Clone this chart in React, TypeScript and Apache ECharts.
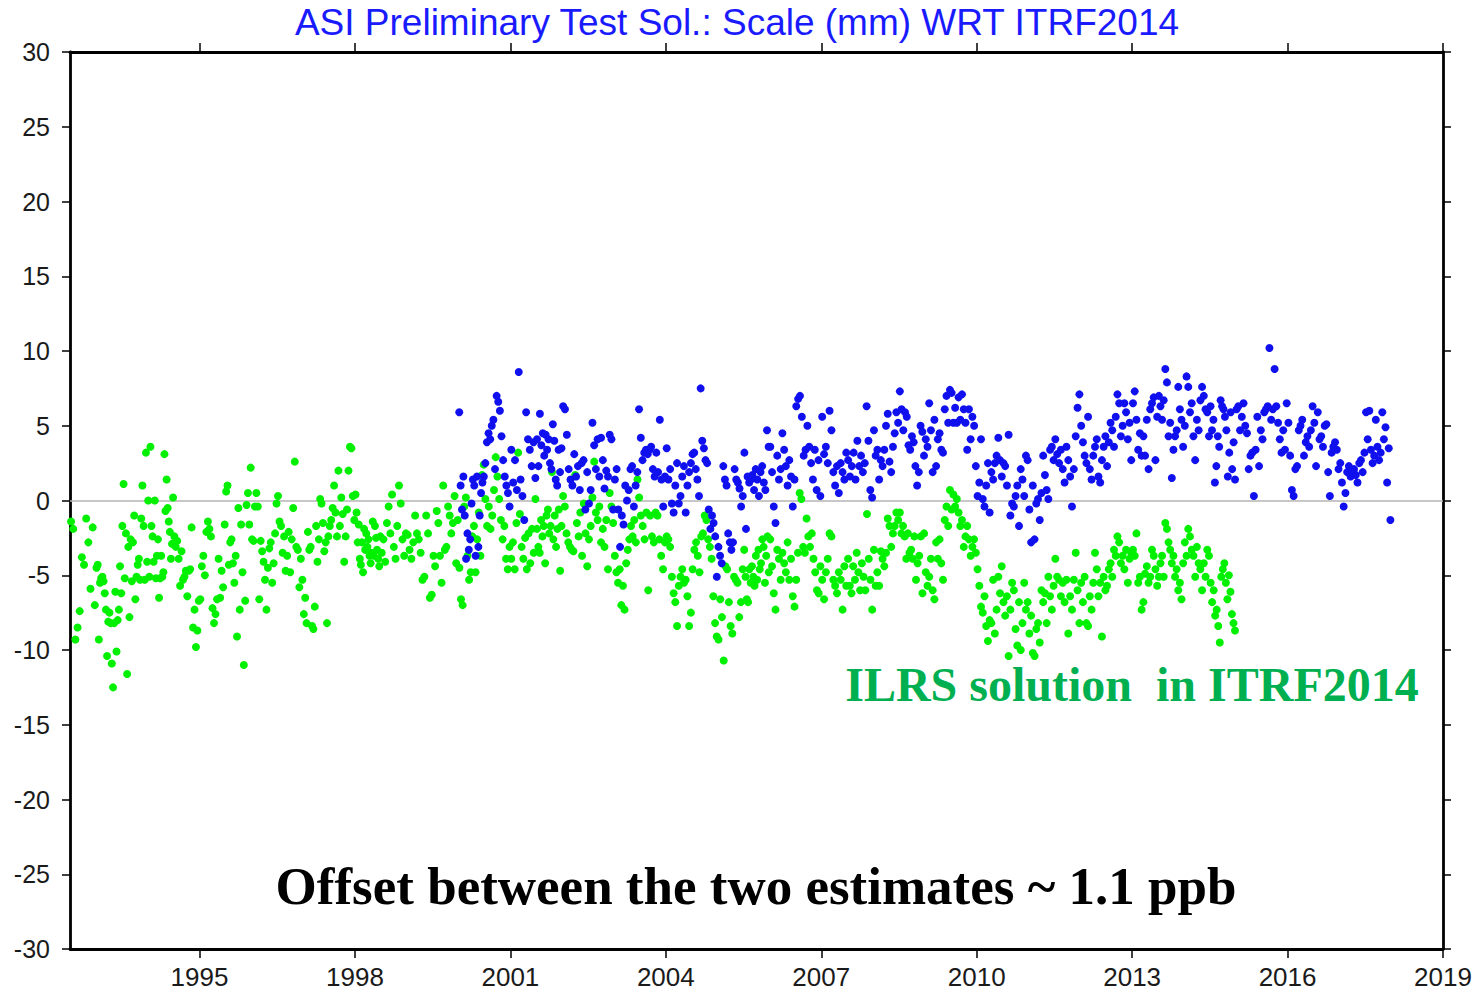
import React, { useEffect, useRef } from "react";
import * as echarts from "echarts";

// ---- axis ticks ----
const yearTicks = [1995, 1998, 2001, 2004, 2007, 2010, 2013, 2016, 2019];
const xMin = 1992.5;
const xMax = 2019;
const yMin = -30;
const yMax = 30;
const yStep = 5;

// ---- texts ----
const titleText = "ASI Preliminary Test Sol.: Scale (mm) WRT ITRF2014";
const ilrsLabel = "ILRS solution  in ITRF2014";
const offsetLabel = "Offset between the two estimates ~ 1.1 ppb";

// ---- ILRS solution (green), half-year blocks starting 1992.5, values in mm, in time order ----
const greenStart = 1992.5;
const greenBlocks: number[][] = [
  [-1.4, -1.9, -9.3, -8.5, -7.4, -3.8, -4.3, -1.2, -2.8, -5.9, -1.8, -7.0],
  [-4.5, -4.3, -9.3, -5.5, -5.2, -5.1, -5.4, -6.2, -7.3, -10.4, -8.1, -7.5, -8.2, -10.9, -12.5, -8.2, -6.1, -10.1, -8.0, -7.3, -4.4, -6.2],
  [-1.7, 1.1, -5.2, -2.2, -11.6, -3.1, -7.8, -2.6, -5.4, -2.8, -1.0, -6.6, -5.1, -4.3, -3.9, -5.3, -1.2, 1.0, -1.7, -5.3, 3.2, -4.1],
  [0.0, -5.1, 3.6, -1.7, -2.4, -4.1, 0.0, -5.2, -3.7, -2.6, -6.5, -5.2, -3.7, -5.1, -4.8, 3.1, -0.7, 1.4, -0.5, -1.4, -2.1, -3.9, -2.9, 0.2],
  [-2.4, -3.1, -2.7, -3.9, -5.7, -3.4, -5.3, -5.1, -4.7, -6.4, -4.7, -4.6, -1.8, -8.5, -7.3, -9.8, -8.7, -6.7],
  [-6.6, -4.4, -3.7, -5.0, -2.1, -1.4, -1.9, -2.4, -7.2, -8.2, -7.6, -6.6, -3.9, -6.5, -4.7, -5.8, -1.6],
  [0.6, 1.0, -4.3, -2.8, -2.6, -4.2, -5.5, -3.7, -9.1, -0.5, -7.3, -1.6, -4.8, -11.0, -6.7, -0.3, 0.5, -1.6, 2.2],
  [-2.6, -2.7, -0.4, 0.5, -0.4, -6.6, -2.7, -3.4, -4.1, -5.3, -7.3, -4.5, -3.2, -2.8, -5.5, -4.2, -2.2, -0.2],
  [0.3, -1.4, -1.7, -3.5, -2.4, -4.7, -3.7, -2.1, -4.8, -2.6, -0.5, 2.6, -3.1, -3.3, -5.8, -3.9, -5.3],
  [-7.6, -6.5, -8.2, -2.1, -3.3, -3.1, -8.4, -8.6, -7.1, -1.7, -4.1, -2.6, 0.1, -0.2, -1.5, -3.4, -2.8, -8.2, -2.4],
  [-1.7, -1.3, -0.5, 1.0, -0.8, -2.4, 2.0, -1.7, 0.2, -0.9, -4.1, -2.4, -0.6, 2.0, 3.6, 3.5, 0.3, -1.3],
  [0.4, -0.8, -2.8, -1.6, -3.9, -4.3, -2.8, -4.8, -1.9, -3.3, -2.2, -3.1, -2.6, -3.7, -4.2, -3.5, -1.4, -3.7, -1.7, -2.5, -3.3, -3.9, -4.4, -2.4],
  [-3.5, -2.6, -4.1, -1.5, -0.4, -2.2, 0.4, -3.1, -3.9, -1.7, 1.0, -0.2, -2.6, -3.7, -2.2],
  [-2.3, -3.3, -3.9, -2.8, -1.0, -2.2, -2.6, -3.5, -5.3, -5.1, -1.0, -2.2, -6.5, -6.3],
  [-3.7, -4.4, -0.7, -1.5, -3.7, -5.5, 1.0, -3.3, -3.1, -0.4, -1.0, -2.2, -1.5, 0.3, -4.2, -1.3],
  [-4.5, -6.6, -7.0, -0.4, 0.2, -3.7, -5.3, -4.8, -2.4, -1.7, -4.8, -2.6, -0.8, -3.7, 1.7, 2.4],
  [0.1, -1.7, -0.4, -1.9, -1.0, 0.7, 2.9, 1.6, 0.1, -1.3, -2.6, -1.7, -3.9, -4.6, -3.1],
  [-3.9, -2.8, -4.6, -1.5, 3.2, -0.9, -3.1, -3.9, -2.5, -4.6, -2.2, -4.2, -1.9, -3.5, 0.1],
  [-1.9, -3.1, -3.5, -1.3, -2.4, -1.7, -4.2, -1.0, -0.6, -2.2, -1.7, 1.9, -2.6, -1.0, -3.1, -1.9, -0.6, -4.7, -1.7],
  [0.3, -0.4, -2.2, -2.8, -3.1, -3.3, -3.4, 1.7, -1.5, -2.4, -0.8, -3.7, -0.2, -2.2, -4.4],
  [-2.6, -1.7, 0.2, 2.6, -0.8, -1.3, -0.4, -2.8, -1.9, -3.1, -1.3, -4.6, 0.5, -0.4, -1.5],
  [-3.7, -4.8, -5.5, -4.6, -7.0, -5.7, -7.3, -4.2, -3.3, -2.6, -1.7, -2.4, -1.3, -2.8, 1.4, 0.2],
  [-1.0, -1.7, -2.6, -0.8, -6.0, -1.0, -2.4, -2.8, -0.8, -1.0, -2.6, -3.7, -4.6, -2.8],
  [-2.4, -2.6, -3.1, -5.1, -6.2, -6.8, -8.4, -5.7, -5.1, -4.6, -5.5, -5.3, -6.4, -8.4, -7.5],
  [-4.6, -3.3, -2.8, -3.7, -4.8, -2.4, -2.2, -1.0, -1.3, -2.6, -3.1, -3.9, -6.4, -8.2, -9.1],
  [-9.3, -6.6, -7.8, -10.7, -4.4, -4.6, -6.8, -8.4, -8.9, -5.1, -5.3, -5.5, -7.8, -6.8, -4.6],
  [-3.3, -5.1, -6.6, -6.8, -4.6, -5.5, -4.4, -5.1, -5.7, -3.7, -5.3, -3.3, -4.6, -4.2, -2.6, -3.1, -5.5, -3.7, -2.4, -4.8],
  [-2.6, -4.4, -6.2, -7.3, -3.3, -3.9, -5.3, -3.5, -4.2, -4.8, -2.8, -5.3, -3.9, -6.4, -7.1],
  [-5.3, -3.5, 0.5, 0.1, -3.1, -3.5, -1.2, -2.4, -3.1, -2.2, -3.9, -4.8, -6.0, -6.2, -4.4],
  [-5.3, -6.6, -4.8, -3.9, -2.2, -2.4, -5.3, -5.7, -6.2, -4.8, -5.3, -7.3, -4.4, -5.7],
  [-3.9, -5.7, -6.2, -4.4, -5.3, -3.5, -4.8, -6.0, -4.2, -5.1, -6.0, -0.9, -3.9, -5.3, -7.3],
  [-3.3, -5.7, -4.8, -5.7, -3.4, -3.9, -4.4, -3.5, -1.2, -1.7, -3.1, -2.2, -1.7, -0.8, -1.3],
  [-0.8, -2.2, -1.7, -2.4, -3.9, -2.2, -3.5, -3.3, -3.9, -2.4, -5.3, -4.2, -3.7, -2.4, -6.2, -2.2],
  [-4.8, -5.7, -5.1, -3.9, -6.0, -6.6, -2.8, -3.9, -2.6, -4.2, -5.3, -1.3, -0.4, -1.7, 0.7],
  [-0.6, 0.4, -0.4, 0.1, -0.8, -1.7, -1.3, -3.1, -2.4, -1.7, -2.6, -3.7, -3.1, -2.6, -3.5],
  [-4.6, -5.7, -7.1, -7.5, -6.4, -8.4, -9.4, -8.0, -8.2, -5.3, -8.9, -7.3, -5.1, -6.2, -4.4],
  [-6.8, -7.7, -6.4, -10.4, -7.3, -5.5, -6.0, -8.6, -9.7, -6.8, -10.0, -8.2, -5.5, -7.3, -6.8],
  [-8.9, -7.7, -10.2, -10.4, -8.6, -8.2, -9.5, -6.0, -6.8, -6.2, -8.2, -5.1, -6.4, -7.3, -5.7],
  [-3.9, -5.1, -5.3, -6.4, -5.5, -6.8, -5.3, -8.9, -6.4, -7.3, -5.3, -3.5, -6.0, -8.2],
  [-5.5, -6.8, -5.1, -8.2, -8.4, -6.4, -7.3, -5.5, -3.5, -4.6, -6.4, -5.5, -9.1, -5.1, -6.0],
  [-5.7, -4.6, -4.2, -5.1, -3.3, -3.7, -2.4, -2.8, -4.2, -3.7, -4.6, -3.3, -5.5, -3.9, -3.5],
  [-3.3, -3.7, -2.2, -5.5, -5.1, -7.3, -6.8, -4.9, -4.4, -5.5, -5.1, -3.3, -3.7, -4.6, -5.7],
  [-5.1, -4.2, -3.7, -5.1, -1.5, -1.9, -2.8, -3.3, -4.2, -3.7, -5.1, -4.6, -6.0, -5.5, -6.6, -4.2],
  [-2.8, -3.7, -1.9, -2.4, -3.3, -3.7, -5.1, -3.1, -4.2, -4.6, -6.0, -4.2, -5.1, -3.3, -3.7],
  [-5.5, -6.8, -6.0, -7.7, -7.3, -8.4, -9.5, -5.1, -4.6, -4.2, -5.5, -6.6, -5.0, -6.1, -7.6, -8.2, -8.7],
];

// ---- ASI preliminary test solution (blue), half-year blocks starting 2000.0 ----
const blueStart = 2000.0;
const blueBlocks: number[][] = [
  [5.9, 1.0, -0.6, 1.6, -1.0, -3.9, -2.2, -3.3, -2.6, -0.2, 1.4, 1.0, -3.7, 1.6, -3.1, -1.0, 0.5, 1.2, 1.6],
  [2.5, 3.9, 4.5, 4.1, 5.0, 5.4, 2.1, 7.0, 6.6, 6.0, 4.3, 2.7, 1.6, 1.0, 0.5, -0.4],
  [3.4, 1.2, 2.7, 0.7, 8.6, 1.4, 0.3, -1.3, 5.9, 4.1, 3.4, 2.3, 3.9, 1.5],
  [4.1, 2.3, 5.8, 3.7, 4.5, 3.0, 4.4, 3.4, 4.1, 2.5, 2.1, 5.1, 4.0, 1.4, 1.0, 3.4, 1.9, 3.5],
  [6.3, 6.1, 4.4, 2.1, 1.4, 1.0, 3.1, 1.6, 2.3, 0.7, 2.5, 2.7, -0.6, 1.9],
  [-0.2, 0.7, 5.2, 3.7, 2.1, 4.1, 1.6, 4.2, 2.7, 0.8, 2.0, 1.6, 4.4, 4.1, -0.6],
  [1.4, 2.1, -0.6, -3.1, -1.0, -1.6, 1.0, 0.0, 0.7, 2.1, 2.3, -0.4, 1.0, 1.9, 6.1],
  [4.2, 2.7, 3.2, 3.4, 3.1, 3.4, 3.6, 2.1, 1.6, 3.2, 1.9, 5.4, 1.4, -0.4, 1.6],
  [3.5, 1.4, 2.1, -0.2, -0.8, 1.0, 2.5, -0.2, 0.3, 1.6, 2.3, -0.8, 1.0, 1.9, 2.5],
  [3.1, 3.2, 2.1, 1.4, 0.3, 7.5, 4.0, 3.5, 2.7, 2.5, -0.6, -1.9, -1.0, -1.5, -2.4, -5.1],
  [-3.1, -3.7, -4.2, 2.3, 1.4, 1.0, -2.2, -2.8, -3.3, -2.8, 2.1, 1.4, 1.2, 0.8, -0.4, 0.3],
  [3.2, -1.9, 1.6, 1.2, 1.4, 1.7, 0.7, 2.1, 1.4, 0.3, 1.9, 2.3, 1.2, 0.7, 4.7, 3.6],
  [3.6, 1.9, -0.4, -1.5, 3.0, 1.4, 2.1, 4.5, 3.4, 2.3, 1.0, 2.7, 1.6, -0.4, 1.4],
  [6.3, 6.8, 7.0, 5.6, 3.0, 3.4, 5.0, 3.6, 2.5, 1.4, 3.4, 0.7, 2.7, 0.3],
  [5.6, 3.1, 3.6, 2.5, 6.0, 4.7, 1.9, 1.0, 2.3, 0.5, 2.5, 1.9, 1.4, 3.2],
  [2.7, 1.6, 2.3, 3.2, 1.4, 4.0, 2.3, 3.0, 1.9, 2.5, 6.3, 4.0, 0.7, 0.2],
  [4.7, 3.0, 3.4, 1.4, 2.7, 2.3, 3.4, 5.0, 5.8, 2.6, 1.9, 3.6, 4.5, 5.9, 5.2],
  [7.3, 6.1, 4.7, 5.9, 5.6, 3.7, 3.4, 4.3, 3.9, 2.3, 1.0, 1.9, 5.0, 4.6, 3.0],
  [4.1, 3.6, 6.5, 4.7, 1.9, 5.4, 2.3, 4.1, 4.5, 3.4, 3.2, 6.1, 7.0, 5.2, 7.4],
  [7.2, 5.2, 6.2, 5.2, 6.9, 5.4, 7.1, 6.1, 5.2, 3.4, 6.1, 4.1, 5.6, 5.0, 2.3],
  [0.3, 1.2, 4.1, 0.1, -0.4, 1.0, 2.5, -0.8, 1.9, 1.4, 2.5, 3.0, 4.2, 2.7, 1.6],
  [2.5, 2.3, 1.0, 4.4, -1.0, -0.2, -0.4, 0.3, 1.0, -1.7, 2.1, 1.4, 0.3, 3.0, 2.7],
  [-0.6, -2.8, 1.0, -2.6, -0.2, 0.1, -1.3, 0.5, 3.0, 1.7, 0.7, 0.1, 3.4, 3.6, 2.7],
  [4.1, 3.1, 2.5, 3.4, 2.1, 1.2, 3.6, 2.7, 1.6, -0.4, 2.1, 4.3, 6.2, 7.1],
  [5.0, 3.9, 3.0, 2.5, 5.6, 2.1, 1.4, 3.0, 3.6, 4.1, 1.6, 1.2, 2.7, 3.6, 4.3],
  [2.3, 3.9, 5.2, 4.7, 3.6, 5.6, 7.1, 6.5, 4.3, 5.0, 6.5, 5.9, 4.1, 5.2, 2.7],
  [6.5, 7.3, 5.4, 3.4, 4.5, 3.0, 4.3, 3.0, 5.4, 2.1, 6.1, 6.5, 6.9, 2.7, 5.6],
  [7.0, 6.3, 5.4, 6.7, 8.8, 7.9, 4.3, 5.2, 1.5, 3.4, 4.3, 4.7, 7.6, 6.1, 5.4, 3.6],
  [5.0, 8.3, 7.6, 5.9, 6.5, 4.3, 2.7, 5.4, 4.7, 6.7, 7.6, 7.0, 6.1, 5.9, 4.3],
  [6.3, 4.7, 5.4, 1.2, 2.3, 4.3, 3.6, 6.7, 6.3, 6.1, 5.6, 4.7, 1.6, 3.2, 5.9, 2.1, 3.9, 1.4],
  [6.1, 6.3, 4.7, 5.6, 6.5, 5.0, 4.5, 2.1, 3.0, 3.2, 0.3, 3.4, 5.6, 2.3, 4.7],
  [4.1, 5.9, 6.1, 6.3, 10.2, 5.4, 6.1, 8.8, 6.3, 5.2, 4.1, 3.2, 4.7, 3.4, 6.5],
  [5.2, 3.0, 0.7, 0.3, 2.1, 2.3, 4.7, 5.0, 5.4, 3.0, 3.9, 4.3, 3.6, 4.7, 6.3],
  [5.2, 2.3, 5.9, 4.1, 4.3, 3.6, 5.0, 5.1, 1.9, 0.3, 3.2, 3.6, 3.9, 3.4, 2.1],
  [2.5, 1.2, -0.4, 0.5, 1.9, 2.3, 1.6, 1.9, 2.1, 1.7, 1.2, 2.5, 2.7, 1.9, 3.2],
  [5.9, 4.1, 6.0, 3.4, 2.5, 3.0, 5.4, 3.6, 2.7, 3.2, 5.9, 4.1, 4.9, 1.2, 3.5, -1.3],
];

const blockLength = 0.5; // years per block

function blocksToPoints(start: number, blocks: number[][]): number[][] {
  const pts: number[][] = [];
  blocks.forEach((vals, k) => {
    const t0 = start + k * blockLength;
    vals.forEach((v, i) => {
      pts.push([t0 + ((i + 0.5) * blockLength) / vals.length, v]);
    });
  });
  return pts;
}

const SANS = "'Liberation Sans', Arial, Helvetica, sans-serif";
const SERIF = "'Liberation Serif', 'Times New Roman', serif";

export default function App() {
  const ref = useRef<HTMLDivElement>(null);

  useEffect(() => {
    if (!ref.current) return;
    const chart = echarts.init(ref.current, undefined, { renderer: "svg" });

    const axisLineStyle = { color: "#000", width: 2.8 };
    const xAxisBase = {
      type: "value",
      min: xMin,
      max: xMax,
      splitLine: { show: false },
      axisLine: { show: true, onZero: false, lineStyle: axisLineStyle },
      axisTick: {
        show: true,
        inside: false,
        length: 9,
        customValues: yearTicks,
        lineStyle: { color: "#000", width: 1.5 },
      },
    };
    const yAxisBase = {
      type: "value",
      min: yMin,
      max: yMax,
      interval: yStep,
      splitLine: { show: false },
      axisLine: { show: true, onZero: false, lineStyle: axisLineStyle },
      axisTick: { show: true, inside: false, length: 8, lineStyle: { color: "#000", width: 1.5 } },
    };

    const option: any = {
      animation: false,
      backgroundColor: "#fff",
      grid: { left: 70, right: 39, top: 52, bottom: 42, containLabel: false, outerBoundsMode: "none" },
      xAxis: [
        {
          ...xAxisBase,
          position: "bottom",
          axisLabel: {
            show: true,
            customValues: yearTicks,
            margin: 15,
            fontSize: 26,
            fontFamily: SANS,
            color: "#1a1a1a",
            formatter: (v: number) => String(v),
          },
        },
        {
          ...xAxisBase,
          position: "top",
          axisLabel: { show: false },
        },
      ],
      yAxis: [
        {
          ...yAxisBase,
          position: "left",
          axisLabel: {
            show: true,
            margin: 20,
            fontSize: 25,
            fontFamily: SANS,
            color: "#1a1a1a",
            formatter: (v: number) => String(v),
          },
        },
        {
          ...yAxisBase,
          position: "right",
          axisLabel: { show: false },
        },
      ],
      series: [
        {
          name: "ILRS",
          type: "scatter",
          xAxisIndex: 0,
          yAxisIndex: 0,
          data: blocksToPoints(greenStart, greenBlocks),
          symbol: "circle",
          symbolSize: 8,
          itemStyle: { color: "#00f000", opacity: 1 },
          silent: true,
          markLine: {
            silent: true,
            symbol: "none",
            label: { show: false },
            lineStyle: { color: "#b4b4b4", width: 1.5, type: "solid" },
            data: [{ yAxis: 0 }],
            z: 1,
          },
        },
        {
          name: "ASI",
          type: "scatter",
          xAxisIndex: 0,
          yAxisIndex: 0,
          data: blocksToPoints(blueStart, blueBlocks),
          symbol: "circle",
          symbolSize: 8,
          itemStyle: { color: "#1010ee", opacity: 1 },
          silent: true,
        },
      ],
      graphic: [
        {
          type: "text",
          style: {
            text: titleText,
            x: 737,
            y: 22,
            fill: "#1a1aff",
            font: `37px ${SANS}`,
            textAlign: "center",
            textVerticalAlign: "middle",
          },
        },
        {
          type: "text",
          style: {
            text: ilrsLabel,
            x: 1132,
            y: 684,
            fill: "#00b050",
            font: `bold 48px ${SERIF}`,
            textAlign: "center",
            textVerticalAlign: "middle",
          },
        },
        {
          type: "text",
          style: {
            text: offsetLabel,
            x: 756,
            y: 886,
            fill: "#000",
            font: `bold 53px ${SERIF}`,
            textAlign: "center",
            textVerticalAlign: "middle",
          },
        },
      ],
    };

    chart.setOption(option);
    return () => chart.dispose();
  }, []);

  return (
    <div
      ref={ref}
      style={{ position: "fixed", left: 0, top: 0, width: 1482, height: 991, background: "#fff" }}
    />
  );
}
